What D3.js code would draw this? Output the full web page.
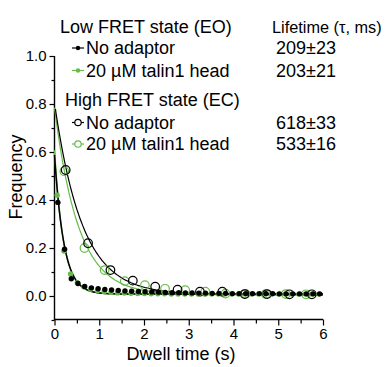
<!DOCTYPE html>
<html>
<head>
<meta charset="utf-8">
<script src="https://cdn.jsdelivr.net/npm/d3@7"></script>
<style>
  body { margin: 0; background: #fff; }
  svg { font-family: "Liberation Sans", Arial, sans-serif; }
</style>
</head>
<body>
<div id="chart"></div>
<script>
// dwell-time histograms (bin centres in s, frequency)
const lowNoTimes = [0.075,0.225,0.375,0.525,0.675,0.825,0.975,1.125,1.275,1.425,1.575,1.725,1.875,2.025,2.175,2.325,2.475,2.625,2.775,2.925,3.075,3.225,3.375,3.525,3.675,3.825,3.975,4.125,4.275,4.425,4.575,4.725,4.875,5.025,5.175,5.325,5.475,5.625,5.775,5.925];
const lowNoFreq = [0.39,0.195,0.072,0.052,0.040,0.034,0.030,0.027,0.025,0.023,0.021,0.020,0.019,0.018,0.017,0.016,0.015,0.014,0.014,0.013,0.013,0.012,0.012,0.011,0.011,0.011,0.010,0.010,0.010,0.010,0.010,0.010,0.010,0.009,0.009,0.009,0.009,0.009,0.009,0.009];
const lowTalinTimes = [0.06,0.21,0.36,0.51,0.66,0.81,0.96,1.11,1.26,1.41,1.56,1.71,1.86,2.01,2.16,2.31,2.46,2.61,2.76,2.91,3.06,3.21,3.36,3.51,3.66,3.81,3.96,4.11,4.26,4.41,4.56,4.71,4.86,5.01,5.16,5.31,5.46,5.61,5.76,5.91];
const lowTalinFreq = [0.42,0.187,0.092,0.055,0.038,0.028,0.022,0.018,0.015,0.013,0.012,0.011,0.010,0.010,0.009,0.009,0.009,0.008,0.008,0.008,0.008,0.008,0.008,0.008,0.008,0.008,0.008,0.008,0.008,0.008,0.008,0.008,0.008,0.008,0.008,0.008,0.008,0.008,0.008,0.008];
const highNoTimes = [0.25,0.75,1.25,1.75,2.25,2.75,3.25,3.75,4.25,4.75,5.25,5.75];
const highNoFreq = [0.525,0.22,0.108,0.064,0.039,0.026,0.018,0.018,0.008,0.008,0.007,0.007];
const highTalinTimes = [0.22,0.67,1.12,1.57,2.02,2.47,2.92,3.37,3.82,4.27,4.72,5.17,5.62];
const highTalinFreq = [0.52,0.2,0.108,0.062,0.045,0.03,0.024,0.018,0.01,0.009,0.008,0.008,0.007];

// single-exponential fits: amplitude, lifetime (s), offset
const fitLowNo = [0.58, 0.209, 0.008];
const fitLowTalin = [0.60, 0.203, 0.008];
const fitHighNo = [0.80, 0.618, 0.005];
const fitHighTalin = [0.78, 0.533, 0.005];

const legendGroups = ["Low FRET state (EO)", "High FRET state (EC)"];
const legendItems = ["No adaptor", "20 µM talin1 head", "No adaptor", "20 µM talin1 head"];
const lifetimes = ["209±23", "203±21", "618±33", "533±16"];
const xTicks = [0, 1, 2, 3, 4, 5, 6];
const yTicks = [0.0, 0.2, 0.4, 0.6, 0.8, 1.0];

const green = "#66bb4a";
const W = 385, H = 367;

const svg = d3.select("#chart").append("svg")
  .attr("width", W).attr("height", H);

const x = d3.scaleLinear().domain([0, 6]).range([54.5, 323]);
const y = d3.scaleLinear().domain([-0.1, 1.0]).range([320, 56]);

// axes
const yAxis = svg.append("g")
  .attr("transform", "translate(54.5,0)")
  .call(d3.axisLeft(y).tickValues(yTicks).tickFormat(d3.format(".1f")).tickSize(5).tickPadding(3));
svg.append("g")
  .attr("transform", "translate(54.5,0)")
  .call(d3.axisLeft(y).tickValues(d3.range(-0.1, 1.0, 0.2)).tickFormat("").tickSize(3))
  .select(".domain").remove();

const xAxis = svg.append("g")
  .attr("transform", "translate(0,319.5)")
  .call(d3.axisBottom(x).tickValues(xTicks).tickFormat(d3.format("d")).tickSize(6).tickPadding(3));
svg.append("g")
  .attr("transform", "translate(0,319.5)")
  .call(d3.axisBottom(x).tickValues(d3.range(0.5, 6, 1)).tickFormat("").tickSize(4))
  .select(".domain").remove();

svg.selectAll(".domain").attr("stroke-width", 1.4);
yAxis.select(".domain").attr("d", "M0,56V320");
xAxis.select(".domain").attr("d", "M54.5,0H323");
svg.selectAll(".tick line").attr("stroke-width", 1.2);
svg.selectAll(".tick text").attr("font-size", 15).attr("fill", "#000")
  .attr("font-family", "Liberation Sans, Arial, sans-serif");

// axis titles
svg.append("text")
  .attr("x", 181).attr("y", 360)
  .attr("text-anchor", "middle").attr("font-size", 18)
  .text("Dwell time (s)");
svg.append("text")
  .attr("transform", "translate(22,177) rotate(-90)")
  .attr("text-anchor", "middle").attr("font-size", 18)
  .text("Frequency");

// fit curves
const tGrid = d3.range(0, 6.001, 0.02);
const curve = p => d3.line()
  .x(t => x(t))
  .y(t => y(p[0] * Math.exp(-t / p[1]) + p[2]))(tGrid.filter(t => p[0] * Math.exp(-t / p[1]) + p[2] <= 0.8));

svg.append("path").attr("d", curve(fitHighTalin)).attr("fill", "none").attr("stroke", green).attr("stroke-width", 1.2);
svg.append("path").attr("d", curve(fitHighNo)).attr("fill", "none").attr("stroke", "#000").attr("stroke-width", 1.2);
svg.append("path").attr("d", curve(fitLowTalin)).attr("fill", "none").attr("stroke", green).attr("stroke-width", 1.5);
svg.append("path").attr("d", curve(fitLowNo)).attr("fill", "none").attr("stroke", "#000").attr("stroke-width", 1.5);

// markers
const openPts = (times, freq, col) => svg.append("g").selectAll("circle")
  .data(times.map((t, i) => [t, freq[i]]))
  .join("circle")
  .attr("cx", d => x(d[0])).attr("cy", d => y(d[1])).attr("r", 4.3)
  .attr("fill", "none").attr("stroke", col).attr("stroke-width", 1.2);
const filledPts = (times, freq, col) => svg.append("g").selectAll("circle")
  .data(times.map((t, i) => [t, freq[i]]))
  .join("circle")
  .attr("cx", d => x(d[0])).attr("cy", d => y(d[1])).attr("r", 2.7)
  .attr("fill", col);

openPts(highTalinTimes, highTalinFreq, green);
openPts(highNoTimes, highNoFreq, "#000");
filledPts(lowTalinTimes, lowTalinFreq, green);
filledPts(lowNoTimes, lowNoFreq, "#000");

// legend
const lg = svg.append("g").attr("font-size", 18);
lg.append("text").attr("x", 60).attr("y", 33).text(legendGroups[0]);
lg.append("text").attr("x", 65).attr("y", 106).text(legendGroups[1]);
lg.append("text").attr("x", 272).attr("y", 33)
  .attr("font-size", 16.3)
  .text("Lifetime (τ, ms)");

const rowsY = [54, 76.5, 128.5, 150];
const rowCol = ["#000", green, "#000", green];
rowsY.forEach((ry, i) => {
  const cy = ry - 6;
  lg.append("line").attr("x1", 72).attr("x2", 84).attr("y1", cy).attr("y2", cy)
    .attr("stroke", rowCol[i]).attr("stroke-width", 1.2);
  if (i < 2) {
    lg.append("circle").attr("cx", 78).attr("cy", cy).attr("r", 2.2).attr("fill", rowCol[i]);
  } else {
    lg.append("circle").attr("cx", 78).attr("cy", cy).attr("r", 3.2)
      .attr("fill", "#fff").attr("stroke", rowCol[i]).attr("stroke-width", 1.2);
  }
  lg.append("text").attr("x", 86).attr("y", ry).text(legendItems[i]);
  lg.append("text").attr("x", 276).attr("y", ry).text(lifetimes[i]);
});
</script>
</body>
</html>
